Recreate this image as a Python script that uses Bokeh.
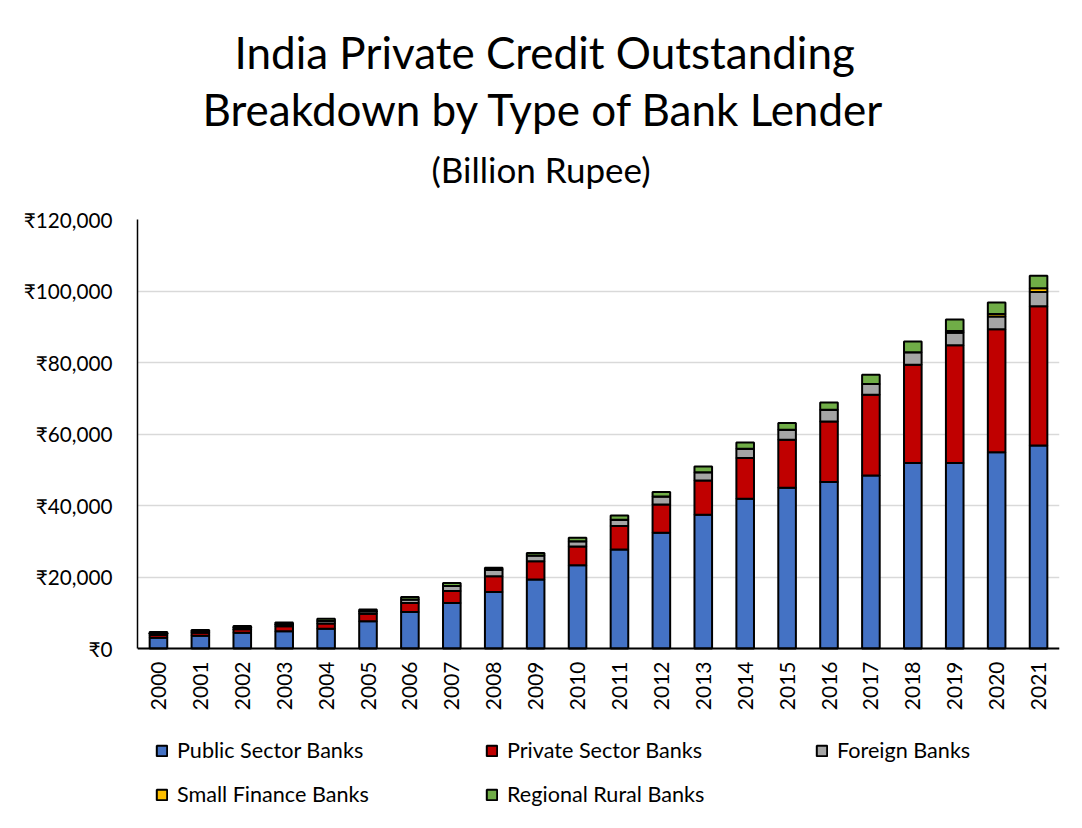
import math
from bokeh.plotting import figure
from bokeh.models import (ColumnDataSource, FactorRange, Range1d, FixedTicker,
                          Legend, LegendItem, Title)
from bokeh.embed import file_html
from bokeh.resources import INLINE

# ---------------- data (billion rupee) ----------------
years = [str(y) for y in range(2000, 2022)]
public_sector = [3000, 3600, 4400, 4800, 5500, 7600, 10200, 12700, 15800, 19300, 23300,
                 27700, 32400, 37400, 41900, 45000, 46600, 48400, 51900, 51900, 54900, 56800]
private_sector = [800, 800, 1000, 1400, 1500, 2100, 2500, 3400, 4400, 5100, 5200,
                  6600, 7900, 9600, 11400, 13400, 16900, 22600, 27500, 32900, 34400, 38900]
foreign_banks = [500, 500, 500, 600, 700, 700, 1000, 1400, 1800, 1600, 1500,
                 1700, 2200, 2300, 2600, 2800, 3300, 3000, 3500, 3500, 3600, 4000]
small_finance = [0, 0, 0, 0, 0, 0, 0, 0, 0, 0, 0,
                 0, 0, 0, 0, 0, 0, 0, 0, 500, 700, 1100]
regional_rural = [300, 300, 400, 500, 600, 500, 700, 800, 600, 700, 1000,
                  1200, 1300, 1600, 1700, 1900, 2000, 2600, 3000, 3200, 3200, 3500]

series_names = ["Public Sector Banks", "Private Sector Banks", "Foreign Banks",
                "Small Finance Banks", "Regional Rural Banks"]
series_keys = ["public", "private", "foreign", "small", "rural"]
series_colors = ["#4472C4", "#C00000", "#A5A5A5", "#FFC000", "#70AD47"]

y_ticks = [0, 20000, 40000, 60000, 80000, 100000, 120000]
y_tick_labels = ["₹0", "₹20,000", "₹40,000", "₹60,000", "₹80,000", "₹100,000", "₹120,000"]
y_max = 120000

title_line1 = "India Private Credit Outstanding"
title_line2 = "Breakdown by Type of Bank Lender"
subtitle = "(Billion Rupee)"

FONT = "Lato"

# layout (pixels): plot area top/zero-line and canvas height
W, H = 1082, 828
TOP, ZERO = 219, 648
# extend the frame below zero so the axis labels and legend live inside it
y_min = -(H - ZERO) / (ZERO - TOP) * y_max

source = ColumnDataSource(data=dict(
    year=years, public=public_sector, private=private_sector, foreign=foreign_banks,
    small=small_finance, rural=regional_rural))

p = figure(width=W, height=H,
           x_range=FactorRange(factors=years), y_range=Range1d(y_min, y_max),
           output_backend="svg", toolbar_location=None,
           min_border_left=137, min_border_right=23,
           min_border_top=TOP, min_border_bottom=0)
p.title.text = ""
p.background_fill_color = "white"
p.border_fill_color = "white"
p.outline_line_color = None

renderers = p.vbar_stack(series_keys, x="year", width=0.42, source=source,
                         fill_color=series_colors, line_color="black", line_width=2)

# axes
p.yaxis.ticker = FixedTicker(ticks=y_ticks)
p.ygrid.ticker = FixedTicker(ticks=y_ticks)
p.yaxis.bounds = (0, y_max)
p.yaxis.major_label_overrides = {v: l for v, l in zip(y_ticks, y_tick_labels)}
p.yaxis.axis_line_color = "black"
p.yaxis.axis_line_width = 1.5
p.yaxis.major_tick_line_color = None
p.yaxis.minor_tick_line_color = None
p.yaxis.major_label_standoff = 19
p.yaxis.major_label_text_font = FONT
p.yaxis.major_label_text_font_size = "20.7px"
p.yaxis.major_label_text_color = "black"

p.xaxis.fixed_location = 0
p.xaxis.axis_line_color = "black"
p.xaxis.axis_line_width = 2
p.xaxis.major_tick_line_color = None
p.xaxis.minor_tick_line_color = None
p.xaxis.major_label_orientation = math.pi / 2
p.xaxis.major_label_standoff = 7
p.xaxis.major_label_text_font = FONT
p.xaxis.major_label_text_font_size = "21px"
p.xaxis.major_label_text_color = "black"

p.xgrid.grid_line_color = None
p.ygrid.grid_line_color = "#D9D9D9"
p.ygrid.grid_line_width = 1.5

# titles (first added = nearest the plot)
for txt, fs, off, so in [(subtitle, "35px", 294, 60),
                         (title_line2, "44px", 65, -39),
                         (title_line1, "44px", 97, 46)]:
    p.add_layout(Title(text=txt, align="left", offset=off, text_font=FONT,
                       text_font_size=fs, text_font_style="normal",
                       text_color="black", standoff=so), "above")

items = [LegendItem(label=n, renderers=[r]) for n, r in zip(series_names, renderers)]
legend = Legend(items=items, location=(18, 21), orientation="horizontal", ncols=3,
                glyph_width=13, glyph_height=13, label_standoff=9,
                label_width=290, spacing=18, padding=0, margin=0,
                label_text_font=FONT, label_text_font_size="21.6px", label_text_color="black",
                border_line_alpha=0, background_fill_alpha=0)
p.add_layout(legend, "center")

open("out.html", "w").write(file_html(p, INLINE))
